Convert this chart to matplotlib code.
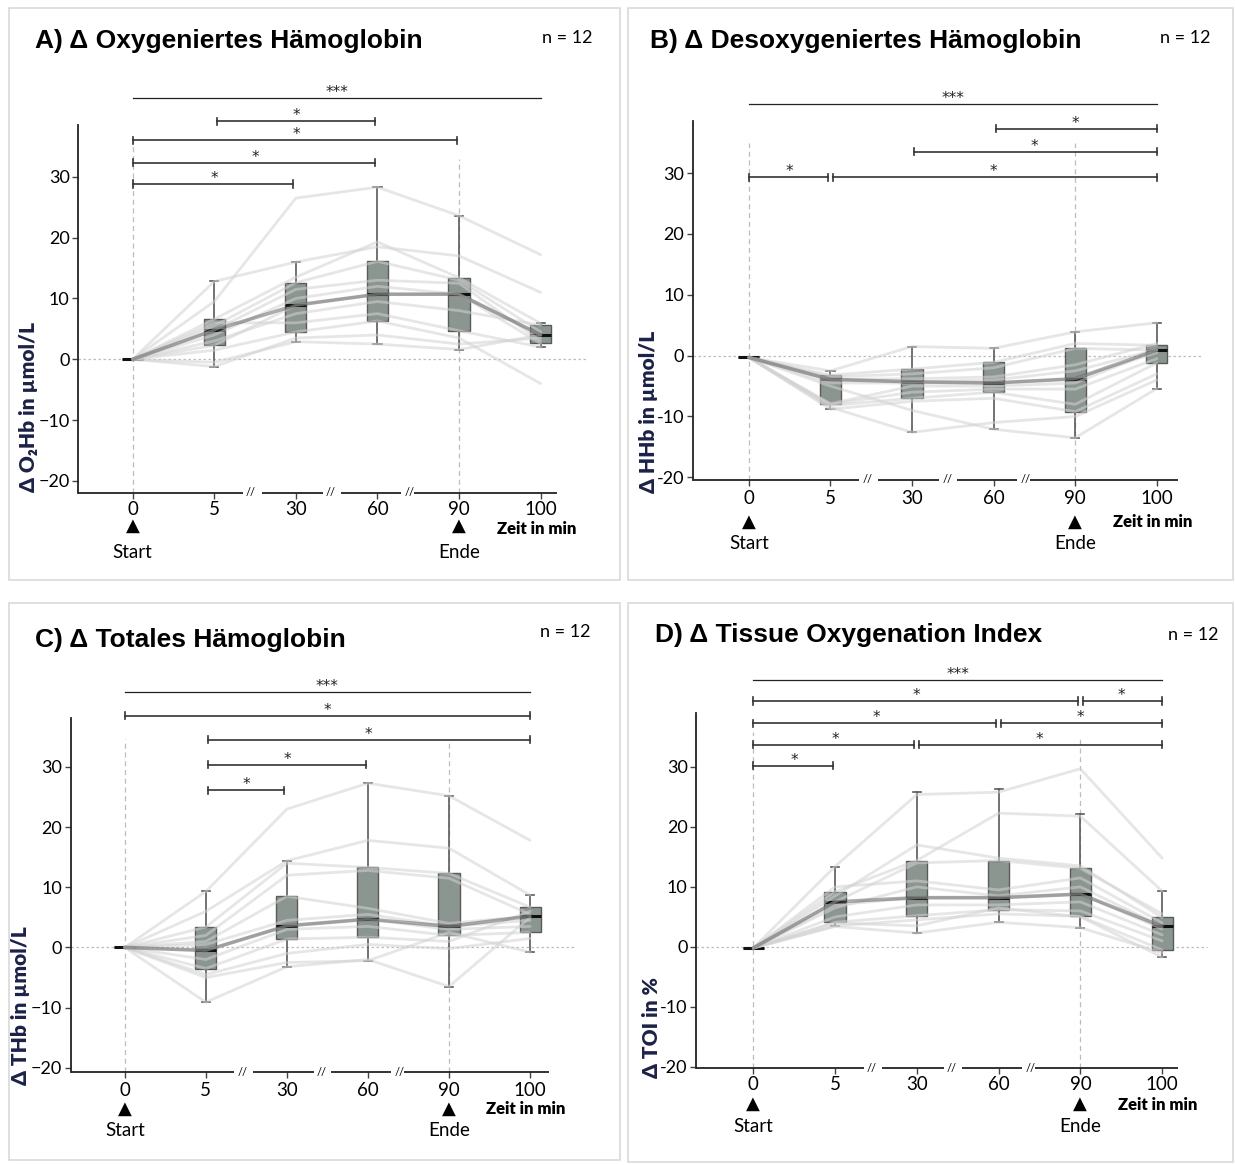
import matplotlib
matplotlib.use("Agg")
import matplotlib.pyplot as plt
from matplotlib.patches import Rectangle

W, H = 1235, 1165

time_labels = ["0", "5", "30", "60", "90", "100"]

# ---- A) oxygenated haemoglobin ----
o2hb_subjects = [
    [0, 9.5, 26.5, 28.3, 23.6, 17.2],
    [0, 12.8, 16.0, 18.5, 17.0, 11.0],
    [0, 6.6, 13.5, 19.3, 13.4, 5.9],
    [0, 5.5, 12.6, 16.1, 13.0, 4.5],
    [0, 4.8, 11.5, 13.0, 12.5, 3.0],
    [0, 4.0, 10.0, 12.0, 10.7, 4.0],
    [0, 2.3, 8.9, 10.7, 10.7, 2.6],
    [0, 3.0, 7.5, 9.5, 8.0, 5.6],
    [0, 6.0, 6.0, 7.5, 4.7, 2.0],
    [0, 1.5, 4.5, 6.3, 3.5, -4.0],
    [0, -1.2, 3.5, 4.0, 2.5, 3.5],
    [0, -0.5, 2.9, 2.5, 1.6, 4.0],
]
o2hb_lo = [0, -1.2, 2.9, 2.5, 1.6, 2.0]
o2hb_q1 = [0, 2.3, 4.5, 6.3, 4.7, 2.6]
o2hb_med = [0, 4.8, 8.9, 10.7, 10.7, 4.0]
o2hb_q3 = [0, 6.6, 12.6, 16.1, 13.4, 5.6]
o2hb_hi = [0, 12.8, 16.0, 28.3, 23.6, 5.9]
o2hb_sig = [("***", 0, 5, 43.0), ("*", 1, 3, 39.1), ("*", 0, 4, 36.0),
            ("*", 0, 3, 32.3), ("*", 0, 2, 28.8)]

# ---- B) deoxygenated haemoglobin ----
hhb_subjects = [
    [-0.3, -2.5, 1.5, 1.2, 3.9, 5.4],
    [-0.3, -3.2, -2.2, -1.1, 2.0, 1.7],
    [-0.3, -3.5, -3.0, -2.0, 1.2, 0.9],
    [-0.3, -3.9, -3.8, -3.5, -1.5, 2.0],
    [-0.3, -4.0, -4.3, -4.0, -2.5, 1.0],
    [-0.3, -4.5, -4.5, -4.5, -3.8, 0.5],
    [-0.3, -7.9, -5.0, -5.0, -4.5, 0.9],
    [-0.3, -8.0, -6.0, -5.5, -5.5, -0.5],
    [-0.3, -8.2, -7.0, -6.0, -8.0, -1.2],
    [-0.3, -8.8, -7.5, -7.0, -9.2, -3.0],
    [-0.3, -8.5, -12.6, -11.0, -10.0, -4.0],
    [-0.3, -5.0, -9.0, -12.1, -13.5, -5.4],
]
hhb_lo = [-0.3, -8.8, -12.6, -12.1, -13.5, -5.4]
hhb_q1 = [-0.3, -7.9, -7.0, -6.0, -9.2, -1.2]
hhb_med = [-0.3, -3.9, -4.3, -4.5, -3.8, 0.9]
hhb_q3 = [-0.3, -3.2, -2.2, -1.1, 1.2, 1.7]
hhb_hi = [-0.3, -2.5, 1.5, 1.2, 3.9, 5.4]
hhb_sig = [("***", 0, 5, 41.3), ("*", 3, 5, 37.3), ("*", 2, 5, 33.5),
           ("*", 0, 1, 29.3), ("*", 1, 5, 29.3)]

# ---- C) total haemoglobin ----
thb_subjects = [
    [0, 9.3, 23.0, 27.3, 25.2, 17.8],
    [0, 6.0, 14.4, 17.8, 16.5, 8.7],
    [0, 3.4, 14.0, 13.3, 12.3, 6.7],
    [0, 2.0, 12.0, 12.8, 11.5, 5.5],
    [0, 1.0, 8.5, 6.5, 4.0, 5.2],
    [0, 0.5, 4.5, 5.5, 3.5, 4.5],
    [0, -0.5, 3.6, 4.7, 3.0, 3.5],
    [0, -2.0, 3.0, 3.5, 2.0, 2.5],
    [0, -3.5, 1.4, 1.7, 1.0, 6.0],
    [0, -4.5, -1.0, 0.5, -0.2, 1.5],
    [0, -5.0, -2.5, -2.2, 2.5, -0.8],
    [0, -9.1, -3.2, -2.0, -6.5, 5.0],
]
thb_lo = [0, -9.1, -3.2, -2.2, -6.5, -0.8]
thb_q1 = [0, -3.5, 1.4, 1.7, 2.0, 2.5]
thb_med = [0, -0.5, 3.6, 4.7, 3.5, 5.2]
thb_q3 = [0, 3.4, 8.5, 13.3, 12.3, 6.7]
thb_hi = [0, 9.3, 14.4, 27.3, 25.2, 8.7]
thb_sig = [("***", 0, 5, 42.5), ("*", 0, 5, 38.5), ("*", 1, 5, 34.5),
           ("*", 1, 3, 30.4), ("*", 1, 2, 26.1)]

# ---- D) tissue oxygenation index ----
toi_subjects = [
    [-0.2, 13.4, 25.4, 25.8, 29.7, 14.8],
    [-0.2, 9.2, 14.4, 22.3, 21.8, 9.3],
    [-0.2, 8.5, 17.0, 14.8, 13.5, 4.9],
    [-0.2, 7.5, 14.0, 14.4, 13.1, 5.5],
    [-0.2, 10.0, 11.0, 9.5, 11.5, 4.0],
    [-0.2, 6.5, 10.0, 8.5, 10.0, 3.4],
    [-0.2, 7.0, 8.2, 8.2, 8.8, 3.0],
    [-0.2, 5.0, 7.0, 7.0, 7.5, 2.0],
    [-0.2, 4.1, 5.2, 6.2, 6.0, 1.0],
    [-0.2, 3.5, 4.5, 5.5, 5.1, -0.5],
    [-0.2, 3.4, 2.3, 4.1, 3.2, -1.0],
    [-0.2, 4.0, 3.5, 6.5, 5.0, -1.7],
]
toi_lo = [-0.2, 3.4, 2.3, 4.1, 3.2, -1.7]
toi_q1 = [-0.2, 4.1, 5.2, 6.2, 5.1, -0.5]
toi_med = [-0.2, 7.5, 8.2, 8.2, 8.8, 3.4]
toi_q3 = [-0.2, 9.2, 14.4, 14.4, 13.1, 4.9]
toi_hi = [-0.2, 13.4, 25.8, 26.3, 22.2, 9.3]
toi_sig = [("***", 0, 5, 44.5), ("*", 0, 4, 41.0), ("*", 4, 5, 41.0),
           ("*", 0, 3, 37.3), ("*", 3, 5, 37.3), ("*", 0, 2, 33.7),
           ("*", 2, 5, 33.7), ("*", 0, 1, 30.2)]

panels = [
    dict(title="A) \u0394 Oxygeniertes H\u00e4moglobin", ylabel="\u0394 O\u2082Hb in \u00b5mol/L",
         subj=o2hb_subjects, lo=o2hb_lo, q1=o2hb_q1, med=o2hb_med, q3=o2hb_q3, hi=o2hb_hi,
         sig=o2hb_sig, minus="\u2212",
         box=(9, 8, 620, 580), rect=(78, 124.5, 557, 492.5), xlim=(-0.67, 5.2), ylim=(-21.9, 38.6),
         title_xy=(35, 41), n_xy=(567, 38), ylab_xy=(28, 492), offs=(14, 33, 60, 37), dash_top=(36, 33)),
    dict(title="B) \u0394 Desoxygeniertes H\u00e4moglobin", ylabel="\u0394 HHb in \u00b5mol/L",
         subj=hhb_subjects, lo=hhb_lo, q1=hhb_q1, med=hhb_med, q3=hhb_q3, hi=hhb_hi,
         sig=hhb_sig, minus="-",
         box=(628, 8, 1233, 580), rect=(692.6, 121.3, 1178, 479.8), xlim=(-0.69, 5.26), ylim=(-20.4, 38.5),
         title_xy=(650, 41), n_xy=(1185, 38), ylab_xy=(649, 493), offs=(15, 42, 64, 42), dash_top=(35, 35)),
    dict(title="C) \u0394 Totales H\u00e4moglobin", ylabel="\u0394 THb in \u00b5mol/L",
         subj=thb_subjects, lo=thb_lo, q1=thb_q1, med=thb_med, q3=thb_q3, hi=thb_hi,
         sig=thb_sig, minus="\u2212",
         box=(9, 603, 620, 1160), rect=(70.5, 717.6, 548.7, 1072), xlim=(-0.67, 5.23), ylim=(-20.7, 38.2),
         title_xy=(35, 640), n_xy=(565, 632), ylab_xy=(21, 1085), offs=(15, 37, 58, 37), dash_top=(34.6, 34)),
    dict(title="D) \u0394 Tissue Oxygenation Index", ylabel="\u0394 TOI in %",
         subj=toi_subjects, lo=toi_lo, q1=toi_q1, med=toi_med, q3=toi_q3, hi=toi_hi,
         sig=toi_sig, minus="-",
         box=(628, 603, 1233, 1162), rect=(696, 713, 1177.7, 1068), xlim=(-0.70, 5.19), ylim=(-20.2, 39.0),
         title_xy=(655, 635), n_xy=(1193, 635), ylab_xy=(651, 1078), offs=(14, 36, 58, 37), dash_top=(35.8, 35.2)),
]

BODY = ["Lato", "DejaVu Sans"]
BOX_FACE = "#8c9690"
GRID_GREY = "#bdbdbd"
breaks = [(1.35, 1.58), (2.33, 2.55), (3.29, 3.45)]

fig = plt.figure(figsize=(W / 100, H / 100), dpi=100)


def fx(px):
    return px / W


def fy(py):
    return 1 - py / H


for p in panels:
    x0, y0, x1, y1 = p["box"]
    fig.add_artist(Rectangle((fx(x0), fy(y1)), (x1 - x0) / W, (y1 - y0) / H,
                             transform=fig.transFigure, fill=False, ec="#d9d9d9", lw=1.2))

    l, t, r, b = p["rect"]
    ax = fig.add_axes([fx(l), fy(b), (r - l) / W, (b - t) / H])
    ax.set_xlim(*p["xlim"])
    ax.set_ylim(*p["ylim"])
    ymin = p["ylim"][0]
    pos = list(range(len(time_labels)))

    # reference lines
    ax.plot([p["xlim"][0], 5.55], [0, 0], ls=(0, (2, 2)), color=GRID_GREY, lw=0.9,
            clip_on=False, zorder=1)
    ax.plot([0, 0], [ymin, p["dash_top"][0]], ls=(0, (4, 3)), color=GRID_GREY, lw=0.9,
            clip_on=False, zorder=1)
    ax.plot([4, 4], [ymin, p["dash_top"][1]], ls=(0, (4, 3)), color=GRID_GREY, lw=0.9,
            clip_on=False, zorder=1)

    # boxes
    stats = [dict(med=m, q1=a, q3=c, whislo=lo, whishi=hi, fliers=[])
             for m, a, c, lo, hi in zip(p["med"], p["q1"], p["q3"], p["lo"], p["hi"])]
    ax.bxp(stats, positions=pos, widths=0.26, capwidths=0.1, patch_artist=True,
           showfliers=False,
           boxprops=dict(facecolor=BOX_FACE, edgecolor="#5a5a5a", lw=1.0),
           whiskerprops=dict(color="#5a5a5a", lw=1.2),
           capprops=dict(color="#5a5a5a", lw=1.2),
           medianprops=dict(color="#111111", lw=2.2),
           zorder=2)

    # individual subjects
    for s in p["subj"]:
        ax.plot(pos, s, color="#d2d2d2", alpha=0.55, lw=2.0, zorder=3, solid_capstyle="round")
    ax.plot(pos, p["med"], color="#4a4a4a", alpha=0.45, lw=2.6, zorder=4)

    # significance brackets
    for label, a, c, yv in p["sig"]:
        xa = a + (0.03 if a > 0 else 0)
        xc = c - (0.03 if c < 5 else 0)
        if label == "***":
            ax.plot([a, c], [yv, yv], color="#222222", lw=0.9, clip_on=False)
        else:
            ax.plot([xa, xc], [yv, yv], color="#333333", lw=1.2, clip_on=False)
            for xe in (xa, xc):
                ax.plot([xe, xe], [yv - 0.6, yv + 0.6], color="#333333", lw=1.2, clip_on=False)
        ax.text((a + c) / 2, yv + 0.9, label, ha="center", va="center", fontsize=11,
                family="DejaVu Sans", color="#222222", clip_on=False)

    # axes styling
    for side in ("top", "right", "bottom"):
        ax.spines[side].set_visible(False)
    ax.spines["left"].set_color("#222222")
    ax.spines["left"].set_linewidth(1.3)
    yt = [30, 20, 10, 0, -10, -20]
    ax.set_yticks(yt)
    ax.set_yticklabels([str(v).replace("-", p["minus"]) for v in yt], family=BODY, fontsize=13)
    ax.tick_params(axis="y", length=4, width=1, color="#444444", pad=2)
    ax.set_xticks(pos)
    ax.set_xticklabels(time_labels, family=BODY, fontsize=13.5)
    ax.tick_params(axis="x", length=4, width=1, color="#444444", pad=p["offs"][0] - 12)

    # broken x axis
    segs = [p["xlim"][0]]
    for g0, g1 in breaks:
        segs += [g0, g1]
    segs.append(p["xlim"][1])
    for k in range(0, len(segs), 2):
        ax.plot([segs[k], segs[k + 1]], [ymin, ymin], color="#222222", lw=1.3,
                clip_on=False, solid_capstyle="butt")
    for g0, g1 in breaks:
        ax.text(g0 + 0.1, ymin, "//", ha="center", va="center", fontsize=8,
                family=BODY, clip_on=False)

    xtr = ax.get_xaxis_transform()
    for xv, name in ((0, "Start"), (4, "Ende")):
        ax.annotate("\u25b2", xy=(xv, 0), xycoords=xtr, xytext=(0, -p["offs"][1] * 0.72),
                    textcoords="offset points", ha="center", va="center", fontsize=13,
                    family="DejaVu Sans")
        ax.annotate(name, xy=(xv, 0), xycoords=xtr, xytext=(0, -p["offs"][2] * 0.72),
                    textcoords="offset points", ha="center", va="center", fontsize=13.5,
                    family=BODY)
    ax.annotate("Zeit in min", xy=(4.95, 0), xycoords=xtr, xytext=(0, -p["offs"][3] * 0.72),
                textcoords="offset points", ha="center", va="center", fontsize=12,
                fontweight="heavy", family=BODY)

    # titles and labels
    fig.text(fx(p["title_xy"][0]), fy(p["title_xy"][1]), p["title"], ha="left", va="center",
             fontsize=19, fontweight="bold", family=["Liberation Sans", "DejaVu Sans"])
    fig.text(fx(p["n_xy"][0]), fy(p["n_xy"][1]), "n = 12", ha="center", va="center",
             fontsize=13, family=BODY)
    fig.text(fx(p["ylab_xy"][0]), fy(p["ylab_xy"][1]), p["ylabel"], rotation=90,
             ha="center", va="bottom", fontsize=15, fontweight="heavy", color="#1c2147",
             family=BODY)

fig.savefig("out.png", dpi=100)
